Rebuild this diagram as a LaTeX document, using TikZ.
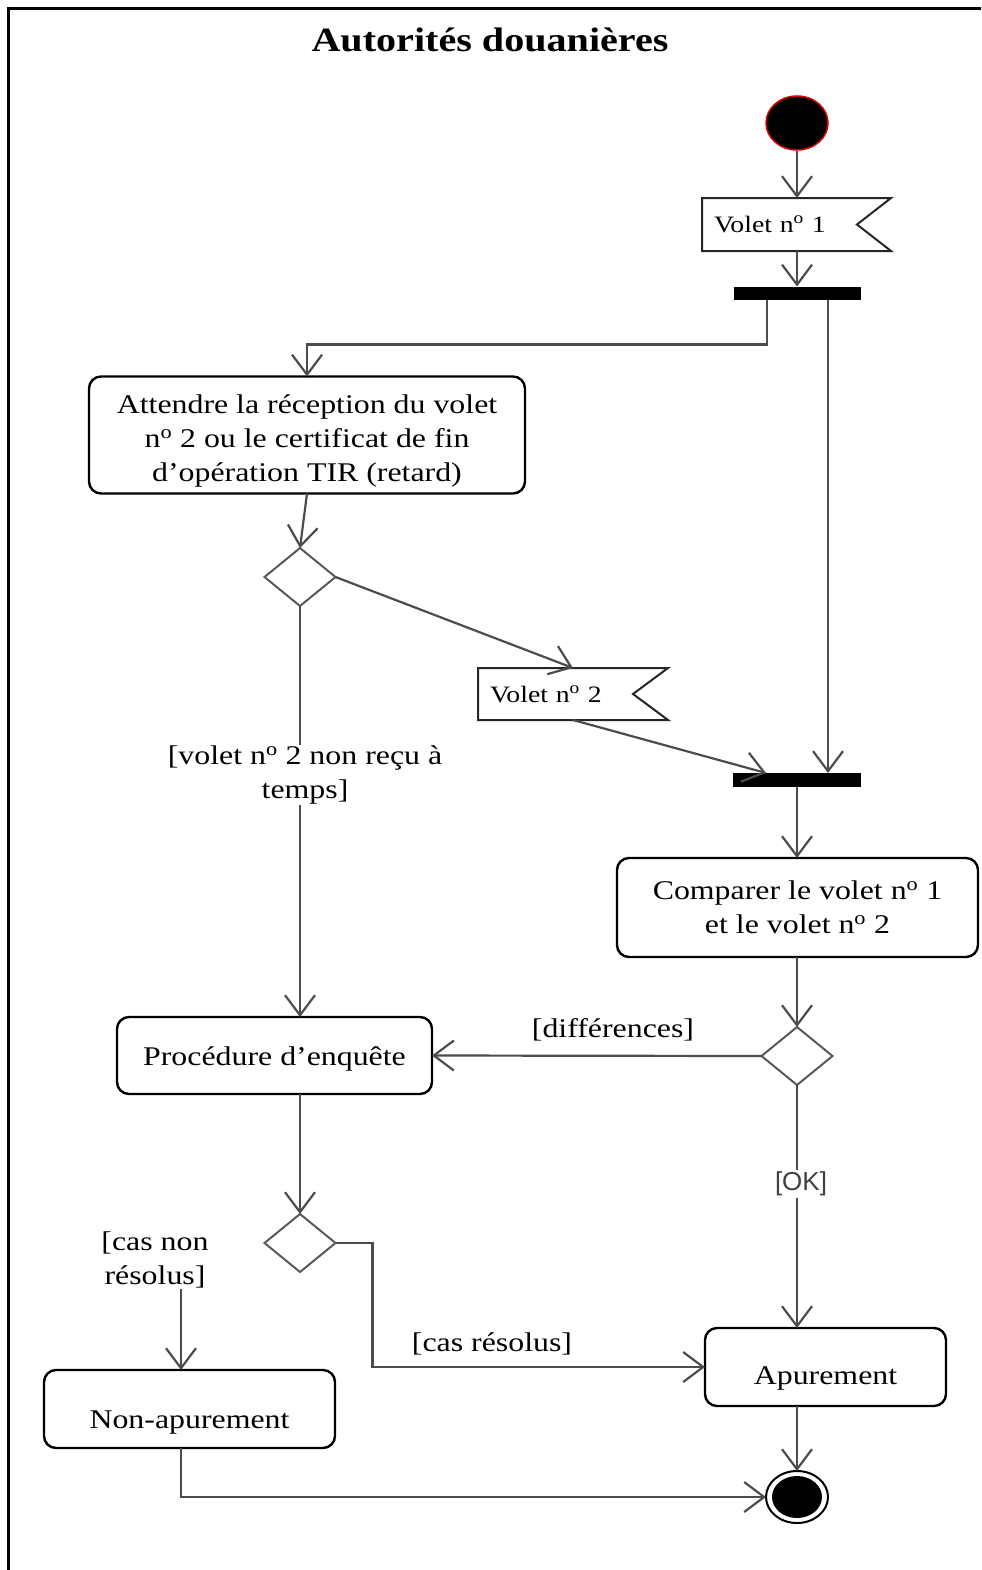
\documentclass[tikz,border=0pt]{standalone}
\usepackage{fontspec}
\setmainfont[FakeStretch=1.18]{Liberation Serif}
\newfontfamily\guardfont{Liberation Sans}
\usetikzlibrary{arrows.meta,shapes.geometric,calc}

\begin{document}
\begin{tikzpicture}[x=1bp,y=-1bp,
  body/.style={font=\fontsize{27bp}{34bp}\selectfont},
  actbox/.style={body, draw=black, line width=2.4bp, rounded corners=12bp,
    align=center, inner sep=0, outer sep=0},
  % drop the text of a one-line box by #1 below its centre
  drop/.style={text height=18.5bp+2*#1},
  flagtxt/.style={font=\fontsize{23.5bp}{28bp}\selectfont, align=left,
    inner xsep=12bp, inner ysep=0, outer sep=0},
  flagline/.style={draw=black!85, line width=2bp, line join=miter},
  bar/.style={fill=black, inner sep=0, outer sep=0},
  choice/.style={diamond, draw=black!65, line width=2bp, aspect=1.22,
    minimum width=71bp, minimum height=58bp, inner sep=0, outer sep=0},
  arr/.style={draw=black!70, line width=2.2bp,
    -{Straight Barb[length=20bp,width=30bp]}},
  guard/.style={body, fill=white, align=center, inner sep=1bp},
]
\useasboundingbox (0,0) rectangle (981,1570);
\clip (0,0) rectangle (981,1570);

% outer frame
\draw[line width=2.6bp] (8.5,1580) -- (8.5,8.5) -- (995,8.5);

% title
\node[font=\fontsize{34bp}{40bp}\selectfont\bfseries] (title) at (490,40) {Autorités douanières};

% initial and final nodes
\node[ellipse, fill=black, draw=red!85!black, line width=1.5bp,
  minimum width=62bp, minimum height=54bp, inner sep=0] (start) at (797,123) {};
\node[ellipse, draw=black, line width=2bp, minimum width=62bp,
  minimum height=52bp, inner sep=0, outer sep=0] (end) at (797,1497) {};
\node[ellipse, fill=black, minimum width=50bp, minimum height=42bp,
  inner sep=0] (endcore) at (end) {};

% signal flags
\node[flagtxt, minimum width=189bp, minimum height=53bp, text width=165bp]
  (v1) at (796.5,224.5) {Volet n\textsuperscript{o} 1};
\draw[flagline] (v1.north west) -- (v1.north east) -- ($(v1.east)+(-34,0)$)
  -- (v1.south east) -- (v1.south west) -- cycle;
\node[flagtxt, minimum width=190bp, minimum height=52bp, text width=166bp]
  (v2) at (573,694) {Volet n\textsuperscript{o} 2};
\draw[flagline] (v2.north west) -- (v2.north east) -- ($(v2.east)+(-35,0)$)
  -- (v2.south east) -- (v2.south west) -- cycle;

% fork / join bars
\node[bar, minimum width=127bp, minimum height=13bp] (bar1) at (797,293) {};
\node[bar, minimum width=128bp, minimum height=14bp] (bar2) at (797,780) {};

% actions
\node[actbox, minimum width=436bp, minimum height=117bp] (att) at (307,435)
  {\rule{0pt}{30.5bp}Attendre la réception du volet\\n\textsuperscript{o} 2 ou le certificat de fin\\d’opération TIR (retard)};
\node[actbox, minimum width=361bp, minimum height=99bp] (cmp) at (797.5,907.5)
  {Comparer le volet n\textsuperscript{o} 1\\et le volet n\textsuperscript{o} 2};
\node[actbox, drop=4bp, minimum width=315bp, minimum height=77bp] (proc) at (274.5,1055.5)
  {Procédure d’enquête};
\node[actbox, drop=13bp, minimum width=291bp, minimum height=78bp] (nonap) at (189.5,1409)
  {Non-apurement};
\node[actbox, drop=11bp, minimum width=241bp, minimum height=78bp] (apur) at (825.5,1367)
  {Apurement};

% decisions
\node[choice] (d1) at (300,577) {};
\node[choice] (d2) at (797,1056) {};
\node[choice] (d3) at (300,1243) {};

% flows
\draw[arr] (start.south) -- (start.south |- v1.north);
\draw[arr] (v1.south -| bar1) -- (bar1.north);
\draw[arr] ($(bar1.south)+(-30,0)$) |- ($(att.north)+(0,-32)$) -- (att.north);
\draw[arr] ($(bar1.south)+(31,0)$) -- ($(bar2.north)+(31,0)$);
\draw[arr] (att.south) -- (d1.north);
\draw[arr] (d1.east) -- (v2.north);
\draw[arr] (v2.south) -- ($(bar2.north)+(-31,0)$);
\draw[arr] (d1.south) -- (d1.south |- proc.north);
\node[guard] (late) at (305,775) {[volet n\textsuperscript{o} 2 non reçu à\\temps]};
\draw[arr] (bar2.south) -- (bar2.south |- cmp.north);
\draw[arr] (cmp.south -| d2) -- (d2.north);
\draw[arr] (d2.west) -- (proc.east);
\node[body] (diff) at (613,1030) {[différences]};
\draw[arr] (d2.south) -- (d2.south |- apur.north);
\node[font=\guardfont\fontsize{26bp}{30bp}\selectfont, text=black!75, fill=white,
  inner sep=2bp] (ok) at (801,1184) {[OK]};
\draw[arr] (proc.south -| d3) -- (d3.north);
\draw[arr] (d3.east) -- ++(37,0) |- (apur.west);
\node[body] (solved) at (492,1344) {[cas résolus]};
\node[body, align=center, inner sep=1bp] (unsolved) at (155,1260) {[cas non\\résolus]};
\draw[arr] ($(unsolved.south)+(26,0)$) -- ($(nonap.north)+(-8.5,0)$);
\draw[arr] ($(nonap.south)+(-8.5,0)$) |- (end.west);
\draw[arr] (apur.south -| end) -- (end.north);
\end{tikzpicture}
\end{document}
